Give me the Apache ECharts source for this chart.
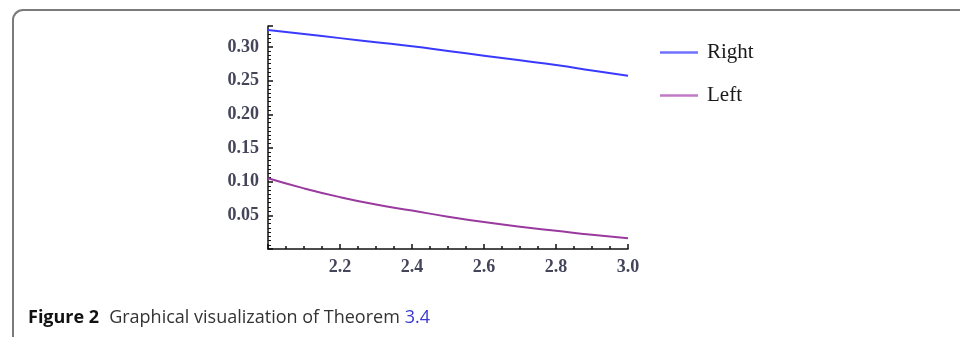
<!DOCTYPE html>
<html>
<head>
<meta charset="utf-8">
<script src="https://cdn.jsdelivr.net/npm/echarts@6/dist/echarts.min.js"></script>
<style>
html,body{margin:0;padding:0;background:#fff;overflow:hidden;width:960px;height:337px;}
#frame{position:absolute;left:12px;top:9px;width:946px;height:340px;border-left:2px solid #7a7a7a;border-top:2px solid #7a7a7a;border-top-left-radius:11px;}
#chart{position:absolute;left:0;top:0;width:960px;height:337px;}
</style>
</head>
<body>
<div id="frame"></div>
<div id="chart"></div>
<script>
const xValues = [2.0, 2.1, 2.2, 2.3, 2.4, 2.5, 2.6, 2.7, 2.8, 2.9, 3.0];
const rightValues = [0.325, 0.319, 0.313, 0.307, 0.301, 0.294, 0.287, 0.280, 0.273, 0.265, 0.257];
const leftValues = [0.105, 0.090, 0.077, 0.066, 0.057, 0.048, 0.040, 0.033, 0.027, 0.021, 0.016];
const seriesNames = ['Right', 'Left'];
const captionBold = 'Figure 2';
const captionText = 'Graphical visualization of Theorem';
const captionRef = '3.4';

const chart = echarts.init(document.getElementById('chart'));
const labelColor = '#45455a';
chart.setOption({
  animation: false,
  grid: {left: 268, top: 26, width: 360, height: 223, containLabel: false},
  title: {
    left: 23, top: 304,
    text: '{b|' + captionBold + '}  {n|' + captionText + '} {r|' + captionRef + '}',
    textStyle: {
      rich: {
        b: {fontFamily: 'Open Sans', fontWeight: 'bold', fontSize: 18, color: '#111'},
        n: {fontFamily: 'Open Sans', fontWeight: 'normal', fontSize: 18, color: '#333'},
        r: {fontFamily: 'Open Sans', fontWeight: 'normal', fontSize: 18, color: '#3a3ad0'}
      }
    }
  },
  legend: {
    orient: 'vertical', left: 655, top: 37, itemGap: 22,
    itemWidth: 38, itemHeight: 2.5, icon: 'rect',
    textStyle: {fontFamily: 'Liberation Serif', fontSize: 21, color: '#1a1a1a', padding: [0,0,0,4]},
    data: seriesNames
  },
  xAxis: {
    type: 'value', min: 2.0, max: 3.0, interval: 0.2,
    axisLine: {lineStyle: {color: '#111', width: 1.5}},
    axisTick: {inside: true, length: 5, lineStyle: {color: '#111', width: 1.5}},
    minorTick: {show: true, splitNumber: 4, length: 3, lineStyle: {color: '#111', width: 1.5}},
    splitLine: {show: false},
    axisLabel: {
      margin: 9, color: labelColor, fontFamily: 'Liberation Serif', fontWeight: 'bold', fontSize: 18,
      formatter: v => Math.abs(v - 2.0) < 1e-9 ? '' : v.toFixed(1)
    }
  },
  yAxis: {
    type: 'value', min: 0, max: 0.331, interval: 0.05,
    axisLine: {lineStyle: {color: '#111', width: 1.5}},
    axisTick: {inside: true, length: 5, lineStyle: {color: '#111', width: 1.5}},
    minorTick: {show: true, splitNumber: 8, length: 3, lineStyle: {color: '#111', width: 1}},
    splitLine: {show: false},
    axisLabel: {
      margin: 9, color: labelColor, fontFamily: 'Liberation Serif', fontWeight: 'bold', fontSize: 18,
      formatter: v => (v === 0 || v > 0.33) ? '' : v.toFixed(2)
    }
  },
  series: [
    {name: seriesNames[0], type: 'line', smooth: true, showSymbol: false,
     lineStyle: {color: '#3a3aff', width: 2}, itemStyle: {color: '#7070ff'},
     data: xValues.map((x, i) => [x, rightValues[i]])},
    {name: seriesNames[1], type: 'line', smooth: true, showSymbol: false,
     lineStyle: {color: '#9a3a9e', width: 2}, itemStyle: {color: '#c07ac6'},
     data: xValues.map((x, i) => [x, leftValues[i]])}
  ]
});
</script>
</body>
</html>
